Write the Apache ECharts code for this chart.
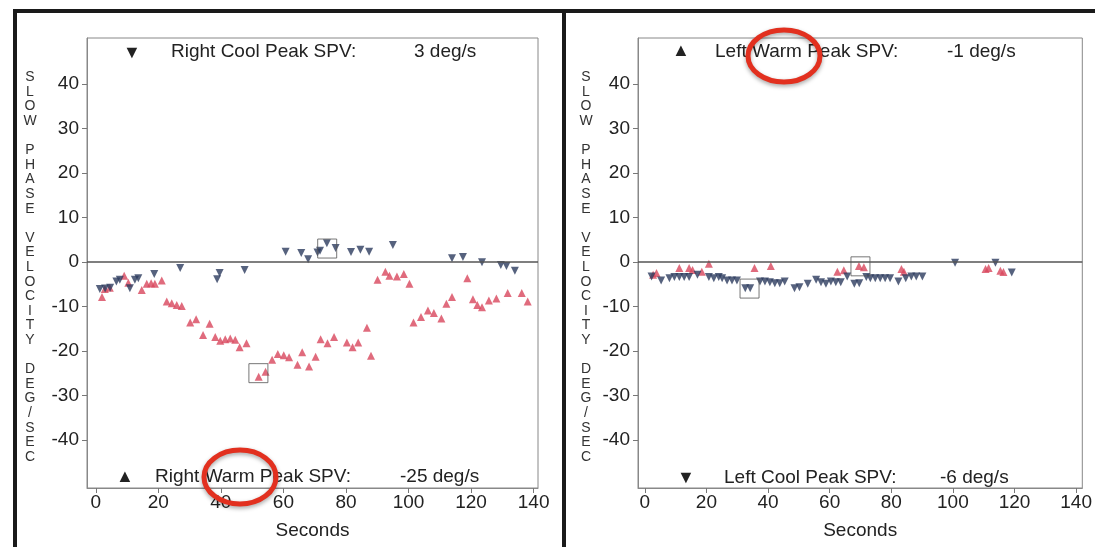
<!DOCTYPE html>
<html>
<head>
<meta charset="utf-8">
<title>Slow phase velocity</title>
<script src="https://cdn.jsdelivr.net/npm/echarts@6/dist/echarts.min.js"></script>
<style>
  html, body { margin: 0; padding: 0; background: #fff; }
  #chart { width: 1095px; height: 547px; }
</style>
</head>
<body>
<div id="chart"></div>
<script>
// tick labels on both panels
const xTicks = [0, 20, 40, 60, 80, 100, 120, 140];
const yTicks = [-40, -30, -20, -10, 0, 10, 20, 30, 40];

// left panel, right ear: [seconds, deg/s]
const rightCool = [
  [1.3, -6.1], [3, -6.0], [4.6, -5.8], [6.6, -4.4], [7.7, -4.0], [10.9, -5.9],
  [12.5, -4.0], [13.6, -3.7], [18.7, -2.7], [27, -1.4], [38.8, -3.9], [39.6, -2.5],
  [47.6, -1.8], [60.7, 2.3], [65.7, 2.0], [67.9, 0.6], [70.9, 2.1], [71.7, 2.5],
  [73.9, 4.2], [76.7, 3.1], [81.6, 2.2], [84.6, 2.7], [87.4, 2.3], [95, 3.8],
  [113.9, 0.8], [117.4, 1.1], [123.5, -0.1], [129.5, -0.7], [131.3, -0.9], [134, -2.0]
];
const rightWarm = [
  [2.0, -7.9], [2.9, -6.1], [4.5, -5.8], [9.1, -3.1], [10.4, -4.7], [14.7, -6.3],
  [16.3, -4.9], [17.7, -4.8], [18.9, -4.9], [21.1, -4.2], [22.7, -8.9], [24.3, -9.3],
  [25.9, -9.7], [27.5, -9.9], [30.2, -13.6], [32.1, -12.9], [34.3, -16.4], [36.4, -13.9],
  [38.2, -16.9], [39.8, -17.7], [41.4, -17.4], [43, -17.2], [44.6, -17.5], [46, -19.2],
  [48.2, -18.3], [52.1, -25.8], [54.3, -24.7], [56.4, -22], [58.2, -20.7], [60.1, -21],
  [61.8, -21.4], [64.5, -23.1], [66, -20.3], [68.2, -23.5], [70.3, -21.3], [71.9, -17.4],
  [74.1, -18.3], [76.2, -16.9], [80.3, -18.1], [82.1, -19.2], [83.9, -18.1], [86.7, -14.8],
  [88, -21.1], [90.1, -4.0], [92.6, -2.2], [93.9, -3.1], [96.3, -3.3], [98.5, -2.7],
  [100.3, -4.9], [101.6, -13.6], [104, -12.4], [106.2, -10.9], [108.1, -11.5], [110.5, -12.7],
  [112.1, -9.4], [113.9, -7.9], [118.8, -3.7], [120.6, -8.4], [122, -9.7], [123.5, -10.2],
  [125.7, -8.7], [128.1, -8.2], [131.7, -7.0], [136.2, -7.0], [138.1, -8.9]
];

// right panel, left ear
const leftWarm = [
  [2.7, -2.9], [3.8, -2.5], [11.2, -1.4], [14.4, -1.4], [15.5, -1.8], [18.5, -2.2],
  [20.8, -0.4], [35.6, -1.4], [40.9, -0.9], [62.5, -2.2], [64.6, -1.9], [69.5, -0.9],
  [71.1, -1.2], [83.3, -1.6], [84.1, -2.2], [110.6, -1.6], [111.6, -1.4], [115.4, -2.0],
  [116.4, -2.3]
];
const leftCool = [
  [2.2, -3.3], [5.3, -4.2], [8, -3.7], [9.6, -3.4], [11.2, -3.4], [12.8, -3.4], [14.4, -3.4],
  [17.1, -2.9], [20.8, -3.4], [22.4, -3.7], [24, -3.4], [25.1, -3.7], [26.7, -4.2],
  [28.3, -4.2], [29.9, -4.2], [32.6, -5.9], [34.2, -5.9], [37.4, -4.4], [39, -4.4],
  [40.6, -4.6], [42.2, -4.8], [43.8, -4.8], [45.4, -4.4], [48.6, -5.9], [50.2, -5.7],
  [52.9, -4.9], [55.6, -4.0], [57.2, -4.6], [58.8, -4.9], [60.4, -4.4], [62, -4.6],
  [63.6, -4.6], [65.7, -3.3], [68, -4.9], [69.6, -4.8], [71.9, -3.4], [73.2, -3.7],
  [74.8, -3.7], [76.4, -3.7], [78, -3.7], [79.6, -3.7], [82.3, -4.4], [84.7, -3.7],
  [86.5, -3.3], [88.1, -3.3], [90.1, -3.3], [100.7, -0.2], [113.8, -0.2], [119.1, -2.4]
];

// boxed peak values
const rightPeaks = [[74, 3], [52, -25]];
const leftPeaks = [[70, -1], [34, -6]];

const font = '"Liberation Sans", Arial, sans-serif';
const warmColor = '#d8465c';
const coolColor = '#2c3b5e';
const textColor = '#222';

const chart = echarts.init(document.getElementById('chart'));

function xAxisFor(gridIndex, min) {
  return {
    gridIndex: gridIndex, type: 'value', min: min, max: min + 144.2,
    name: 'Seconds', nameLocation: 'middle', nameGap: 33,
    nameTextStyle: { fontFamily: font, fontSize: 19, color: textColor },
    axisLine: { show: true, onZero: false, lineStyle: { color: '#888' } },
    axisTick: { show: true, length: 5, customValues: xTicks, lineStyle: { color: '#777' } },
    axisLabel: { customValues: xTicks, fontFamily: font, fontSize: 19, color: textColor, margin: 5 },
    splitLine: { show: false }
  };
}

function yAxisFor(gridIndex) {
  return {
    gridIndex: gridIndex, type: 'value', min: -50.8, max: 50.3,
    axisLine: { show: true, onZero: false, lineStyle: { color: '#888' } },
    axisTick: { show: true, length: 5, customValues: yTicks, lineStyle: { color: '#777' } },
    axisLabel: { customValues: yTicks, fontFamily: font, fontSize: 19, color: textColor, margin: 8 },
    splitLine: { show: false }
  };
}

const zeroLine = {
  silent: true, symbol: 'none', label: { show: false },
  lineStyle: { color: '#555', width: 1.5, type: 'solid' },
  data: [{ yAxis: 0 }]
};

function panelSeries(idx, warm, cool, peaks) {
  return [
    {
      type: 'scatter', xAxisIndex: idx, yAxisIndex: idx, data: warm,
      symbol: 'triangle', symbolSize: 8, itemStyle: { color: warmColor },
      markLine: zeroLine
    },
    {
      type: 'scatter', xAxisIndex: idx, yAxisIndex: idx, data: cool,
      symbol: 'triangle', symbolRotate: 180, symbolSize: 8, itemStyle: { color: coolColor }
    },
    {
      type: 'scatter', xAxisIndex: idx, yAxisIndex: idx, data: peaks,
      symbol: 'rect', symbolSize: 19, silent: true,
      itemStyle: { color: 'rgba(0,0,0,0)', borderColor: '#555', borderWidth: 1 }
    }
  ];
}

// stacked axis title, one letter a line
const yTitle = 'SLOW PHASE VELOCITY DEG/SEC'.split('').join('\n');

function txt(x, y, text, size, align) {
  return {
    type: 'text', x: x, y: y, z: 10,
    style: { text: text, font: size + 'px ' + font, fill: textColor, align: align || 'left', verticalAlign: 'middle' }
  };
}

chart.setOption({
  backgroundColor: '#fff',
  animation: false,
  grid: [
    { left: 87, top: 38, width: 451, height: 450, show: true, borderColor: '#888', borderWidth: 1 },
    { left: 638, top: 38, width: 449, height: 450, show: true, borderColor: '#888', borderWidth: 1 }
  ],
  xAxis: [xAxisFor(0, -2.8), xAxisFor(1, -2.2)],
  yAxis: [yAxisFor(0), yAxisFor(1)],
  series: panelSeries(0, rightWarm, rightCool, rightPeaks)
    .concat(panelSeries(1, leftWarm, leftCool, leftPeaks)),
  graphic: [
    // panel frames
    { type: 'rect', shape: { x: 15, y: 11, width: 549, height: 545 }, style: { fill: 'none', stroke: '#1a1a1a', lineWidth: 4 } },
    { type: 'rect', shape: { x: 564, y: 11, width: 545, height: 545 }, style: { fill: 'none', stroke: '#1a1a1a', lineWidth: 4 } },
    // y titles
    { type: 'text', x: 30, y: 70, style: { text: yTitle, font: '14px ' + font, lineHeight: 14.6, fill: '#333', align: 'center', verticalAlign: 'top' } },
    { type: 'text', x: 586, y: 70, style: { text: yTitle, font: '14px ' + font, lineHeight: 14.6, fill: '#333', align: 'center', verticalAlign: 'top' } },
    // peak legends
    txt(132, 53, '\u25BC', 18, 'center'),
    txt(171, 52, 'Right Cool Peak SPV:', 19),
    txt(414, 52, '3 deg/s', 19),
    txt(125, 477, '\u25B2', 18, 'center'),
    txt(155, 477, 'Right Warm Peak SPV:', 19),
    txt(400, 477, '-25 deg/s', 19),
    txt(681, 51, '\u25B2', 18, 'center'),
    txt(715, 52, 'Left Warm Peak SPV:', 19),
    txt(947, 52, '-1 deg/s', 19),
    txt(686, 478, '\u25BC', 18, 'center'),
    txt(724, 478, 'Left Cool Peak SPV:', 19),
    txt(940, 478, '-6 deg/s', 19),
    // red annotation circles
    { type: 'ellipse', z: 20, shape: { cx: 784, cy: 56, rx: 36, ry: 26 },
      style: { fill: 'none', stroke: '#e2301f', lineWidth: 5, shadowBlur: 4, shadowColor: 'rgba(0,0,0,0.35)', shadowOffsetY: 2 } },
    { type: 'ellipse', z: 20, shape: { cx: 240, cy: 477, rx: 36, ry: 27 },
      style: { fill: 'none', stroke: '#e2301f', lineWidth: 5, shadowBlur: 4, shadowColor: 'rgba(0,0,0,0.35)', shadowOffsetY: 2 } }
  ]
});
</script>
</body>
</html>
